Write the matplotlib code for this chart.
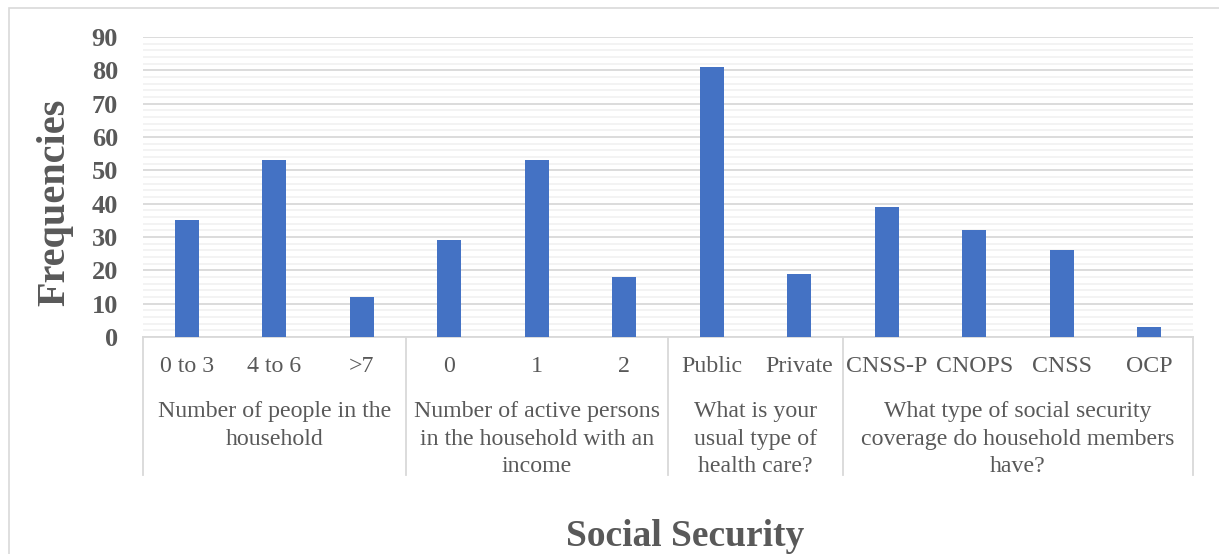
import matplotlib.pyplot as plt
from matplotlib.patches import Rectangle
from matplotlib.ticker import MultipleLocator

# categories and frequencies, grouped by survey question
groups = [
    "Number of people in the\nhousehold",
    "Number of active persons\nin the household with an\nincome",
    "What is your\nusual type of\nhealth care?",
    "What type of social security\ncoverage do household members\nhave?",
]
group_sizes = [3, 3, 2, 4]
categories = ["0 to 3", "4 to 6", ">7", "0", "1", "2", "Public", "Private",
              "CNSS-P", "CNOPS", "CNSS", "OCP"]
freqs = [35, 53, 12, 29, 53, 18, 81, 19, 39, 32, 26, 3]

plt.rcParams['font.family'] = ['Liberation Serif', 'DejaVu Serif']
txt = '#595959'
grid = '#D9D9D9'

fig = plt.figure(figsize=(12.19, 5.54), dpi=100)
ax = fig.add_axes([143 / 1219, 1 - 337 / 554, 1050 / 1219, 300 / 554])

# outer chart border
fig.patches.append(Rectangle((9 / 1219, -0.1), 1.2, 1 - 8 / 554 + 0.1,
                             transform=fig.transFigure, fill=False,
                             edgecolor=grid, lw=1.2))

x = list(range(len(categories)))
ax.bar(x, freqs, width=0.27, color='#4472C4', zorder=3)
ax.set_xlim(-0.5, len(categories) - 0.5)
ax.set_ylim(0, 90)

ax.yaxis.set_major_locator(MultipleLocator(10))
ax.yaxis.set_minor_locator(MultipleLocator(2))
ax.grid(axis='y', which='major', color=grid, lw=1.3, zorder=1)
ax.grid(axis='y', which='minor', color='#F2F2F2', lw=1.3, zorder=0)
ax.tick_params(axis='y', which='both', length=0, pad=18, labelsize=19,
               labelcolor=txt)
for lab in ax.get_yticklabels():
    lab.set_fontweight('bold')
ax.set_xticks([])

for s in ['top', 'right', 'left']:
    ax.spines[s].set_visible(False)
ax.spines['bottom'].set_color(grid)
ax.spines['bottom'].set_linewidth(1.3)

trans = ax.get_xaxis_transform()
# category labels
for xi, c in zip(x, categories):
    ax.text(xi, -0.1, c, transform=trans, ha='center', va='center',
            fontsize=17.2, color=txt)

# group separators and group labels
edges = [-0.5]
for n in group_sizes:
    edges.append(edges[-1] + n)
for e in edges:
    ax.plot([e, e], [0, -0.46], transform=trans, color=grid, lw=1.3,
            clip_on=False)
for g, a, b in zip(groups, edges[:-1], edges[1:]):
    ax.text((a + b) / 2, -0.215, g, transform=trans, ha='center', va='top',
            fontsize=17.2, color=txt, linespacing=1.4)

fig.text(55 / 1219, 1 - 202 / 554, 'Frequencies', rotation=90, ha='center',
         va='center', fontsize=29, fontweight='bold', color=txt)
fig.text(685 / 1219, 1 - 537 / 554, 'Social Security', ha='center',
         va='center', fontsize=27, fontweight='bold', color=txt)

fig.savefig('out.png', dpi=100)
